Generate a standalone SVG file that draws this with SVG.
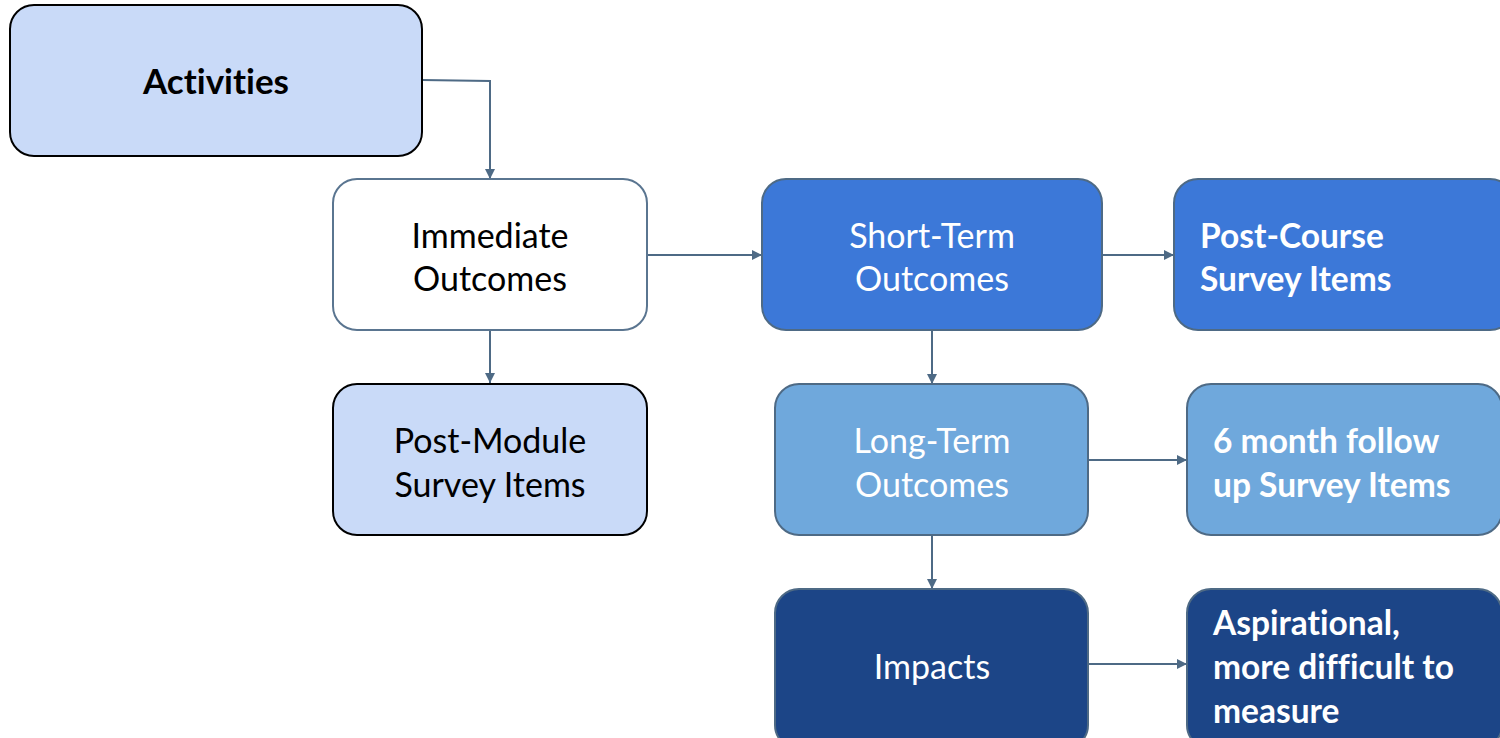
<svg xmlns="http://www.w3.org/2000/svg" width="1500" height="738" viewBox="0 0 1500 738">
  <defs>
    <marker id="arrow" viewBox="0 0 10 10" refX="10" refY="5" markerWidth="10" markerHeight="10" markerUnits="userSpaceOnUse" orient="auto">
      <path d="M0,0 L10,5 L0,10 Z" fill="#4e6a85"/>
    </marker>
    <style>
      .box { stroke-width: 2; }
      .pale { fill: #c9daf8; stroke: #000000; }
      .white { fill: #ffffff; stroke: #5a7590; }
      .mid { fill: #3c78d8; stroke: #4e6a85; }
      .light { fill: #6fa8dc; stroke: #4e6a85; }
      .dark { fill: #1c4587; stroke: #4e6a85; }
      text { font-family: Lato, "Open Sans", "Liberation Sans", sans-serif; font-size: 34px; font-variant-ligatures: none; }
      .c { text-anchor: middle; }
      .b { font-weight: bold; font-size: 33.5px; }
      .w { fill: #ffffff; }
      .k { fill: #000000; }
      .conn { fill: none; stroke: #4e6a85; stroke-width: 2; marker-end: url(#arrow); }
    </style>
  </defs>

  <g id="connectors">
    <path class="conn" d="M422,80 L490,81 L490,179"/>
    <path class="conn" d="M647,255 L762,255"/>
    <path class="conn" d="M1102,255 L1174,255"/>
    <path class="conn" d="M490,330 L490,383"/>
    <path class="conn" d="M932,330 L932,384"/>
    <path class="conn" d="M1088,460 L1187,460"/>
    <path class="conn" d="M932,535 L932,589"/>
    <path class="conn" d="M1088,664 L1187,664"/>
  </g>

  <g id="activities">
    <rect class="box pale" x="10" y="5" width="412" height="151" rx="24"/>
    <text class="c b k" x="216" y="94" style="font-size:35px">Activities</text>
  </g>

  <g id="immediate-outcomes">
    <rect class="box white" x="333" y="179" width="314" height="151" rx="24"/>
    <text class="c k" x="490" y="248">Immediate</text>
    <text class="c k" x="490" y="291">Outcomes</text>
  </g>

  <g id="post-module">
    <rect class="box pale" x="333" y="384" width="314" height="151" rx="24"/>
    <text class="c k" x="490" y="453">Post-Module</text>
    <text class="c k" x="490" y="497">Survey Items</text>
  </g>

  <g id="short-term-outcomes">
    <rect class="box mid" x="762" y="179" width="340" height="151" rx="24"/>
    <text class="c w" x="932" y="248">Short-Term</text>
    <text class="c w" x="932" y="291">Outcomes</text>
  </g>

  <g id="post-course">
    <rect class="box mid" x="1174" y="179" width="340" height="151" rx="24"/>
    <text class="b w" x="1200" y="248">Post-Course</text>
    <text class="b w" x="1200" y="291">Survey Items</text>
  </g>

  <g id="long-term-outcomes">
    <rect class="box light" x="775" y="384" width="313" height="151" rx="24"/>
    <text class="c w" x="932" y="453">Long-Term</text>
    <text class="c w" x="932" y="497">Outcomes</text>
  </g>

  <g id="six-month">
    <rect class="box light" x="1187" y="384" width="315" height="151" rx="24"/>
    <text class="b w" x="1213" y="453">6 month follow</text>
    <text class="b w" x="1213" y="497">up Survey Items</text>
  </g>

  <g id="impacts">
    <rect class="box dark" x="775" y="589" width="313" height="160" rx="24"/>
    <text class="c w" x="932" y="679">Impacts</text>
  </g>

  <g id="aspirational">
    <rect class="box dark" x="1187" y="589" width="315" height="160" rx="24"/>
    <text class="b w" x="1213" y="635">Aspirational,</text>
    <text class="b w" x="1213" y="679">more difficult to</text>
    <text class="b w" x="1213" y="723">measure</text>
  </g>
</svg>
